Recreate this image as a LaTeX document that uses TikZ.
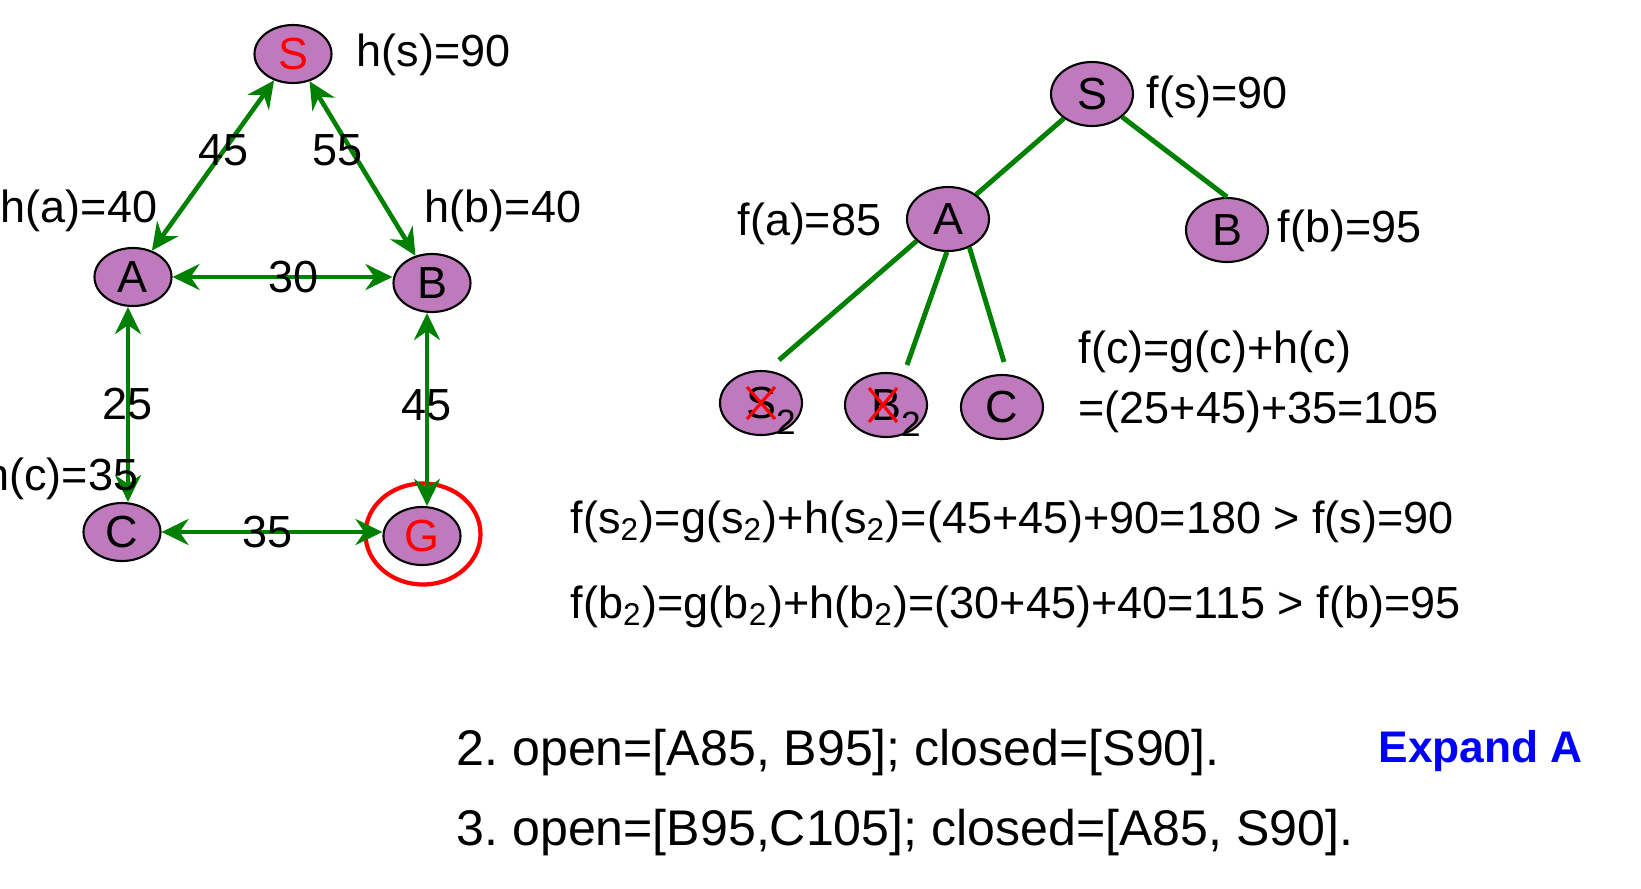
\documentclass[tikz,border=0pt]{standalone}
\usepackage{fontspec}
\setmainfont{Liberation Sans}
\usetikzlibrary{shapes.geometric,arrows.meta}
\definecolor{nodepurple}{RGB}{190,122,188}
\definecolor{edgegreen}{RGB}{0,128,0}
% big lowered index used inside the crossed tree nodes
\newcommand{\xsub}[1]{\rlap{\smash{\raisebox{-4.6pt}{\fontsize{10}{10}\selectfont #1}}}}

\begin{document}
\frenchspacing
\begin{tikzpicture}[x=0.1mm, y=-0.1mm, >={Stealth[length=2.7mm, width=2.6mm, inset=0.9mm]},
	font=\fontsize{12.8}{15}\selectfont,
	gnode/.style={ellipse, draw, line width=0.6pt, fill=nodepurple, minimum width=7.7mm, minimum height=5.8mm, inner sep=0pt},
	tnode/.style={gnode, minimum width=8.2mm, minimum height=6.4mm},
	garrow/.style={<->, draw=edgegreen, line width=1.3pt},
	tedge/.style={draw=edgegreen, line width=1.4pt},
	xmark/.style={draw=red, line width=0.9pt},
	txt/.style={inner sep=0pt}]
	\useasboundingbox (0,0) rectangle (1641,888);

	% search graph
	\node[gnode, text=red] (gS) at (293,54) {S};
	\node[gnode] (gA) at (133,277) {A};
	\node[gnode] (gB) at (432,283) {B};
	\node[gnode] (gC) at (122,532) {C};
	\node[gnode, text=red] (gG) at (422,536) {G};
	\node[ellipse, draw=red, line width=1.2pt, minimum width=11.5mm, minimum height=10.1mm] (goal) at (423,534) {};

	\draw[garrow] (gS) -- node[txt, pos=.41] (wSA) {45} (gA);
	\draw[garrow] (gS) -- node[txt, pos=.36, xshift=-1mm, yshift=-0.6mm] (wSB) {55} (gB);
	\draw[garrow] (gA.east) -- node[txt, pos=.55] (wAB) {30} (gA.east -| gB.west);
	\draw[garrow] ([shift={(-5,0)}]gA.south) -- node[txt, pos=.5] (wAC) {25} ([shift={(6,0)}]gC.north);
	\draw[garrow] ([shift={(-5,0)}]gB.south) -- node[txt, pos=.48] (wBG) {45} ([shift={(5,0)}]gG.north);
	\draw[garrow] (gC.east) -- node[txt, pos=.48] (wCG) {35} (gC.east -| gG.west);

	\node[txt, anchor=base west] (hs) at (356,66) {h(s)=90};
	\node[txt, anchor=base] (ha) at (79,222) {h(a)=40};
	\node[txt, anchor=base] (hb) at (503,222) {h(b)=40};
	\node[txt, anchor=base east] (hc) at (139,490) {h(c)=35};

	% search tree
	\node[tnode] (tS) at (1092,94) {S};
	\node[tnode] (tA) at (948,219) {A};
	\node[tnode] (tB) at (1227,230) {B};
	\node[tnode] (tS2) at (761,403) {S\xsub{2}};
	\node[tnode] (tB2) at (886,405) {B\xsub{2}};
	\node[tnode] (tC) at (1002,407) {C};

	\draw[tedge] (tS) -- (tA);
	\draw[tedge] (tS) -- (tB.north);
	\draw[tedge] (tA.215) -- ([shift={(18,-43)}]tS2.center);
	\draw[tedge] (tA.-92) -- ([shift={(21,-40)}]tB2.center);
	\draw[tedge] (tA.-53) -- ([shift={(2,-45)}]tC.center);

	\draw[xmark] ([shift={(-14,-16)}]tS2.center) -- ([shift={(14,16)}]tS2.center);
	\draw[xmark] ([shift={(14,-16)}]tS2.center) -- ([shift={(-14,16)}]tS2.center);
	\draw[xmark] ([shift={(-17,-17)}]tB2.center) -- ([shift={(11,17)}]tB2.center);
	\draw[xmark] ([shift={(11,-17)}]tB2.center) -- ([shift={(-17,17)}]tB2.center);

	\node[txt, anchor=base west] (fs) at (1146,108) {f(s)=90};
	\node[txt, anchor=base east] (fa) at (882,235) {f(a)=85};
	\node[txt, anchor=base west] (fb) at (1277,242) {f(b)=95};
	\node[txt, anchor=base west] (fc1) at (1078,363) {f(c)=g(c)+h(c)};
	\node[txt, anchor=base west] (fc2) at (1078,423) {=(25+45)+35=105};
	\node[txt, anchor=base west] (fs2) at (570,533) {f(s\textsubscript{2})=g(s\textsubscript{2})+h(s\textsubscript{2})=(45+45)+90=180 > f(s)=90};
	\node[txt, anchor=base west] (fb2) at (570,618) {f(b\textsubscript{2})=g(b\textsubscript{2})+h(b\textsubscript{2})=(30+45)+40=115 > f(b)=95};

	% open / closed lists
	\node[txt, anchor=base west, font=\fontsize{14.25}{17}\selectfont] (open2) at (456,765) {2. open=[A85, B95]; closed=[S90].};
	\node[txt, anchor=base west, font=\fontsize{12.6}{16}\selectfont\bfseries, text=blue] (expand) at (1378,762) {Expand A};
	\node[txt, anchor=base west, font=\fontsize{14.25}{17}\selectfont] (open3) at (456,845) {3. open=[B95,C105]; closed=[A85, S90].};
\end{tikzpicture}
\end{document}
